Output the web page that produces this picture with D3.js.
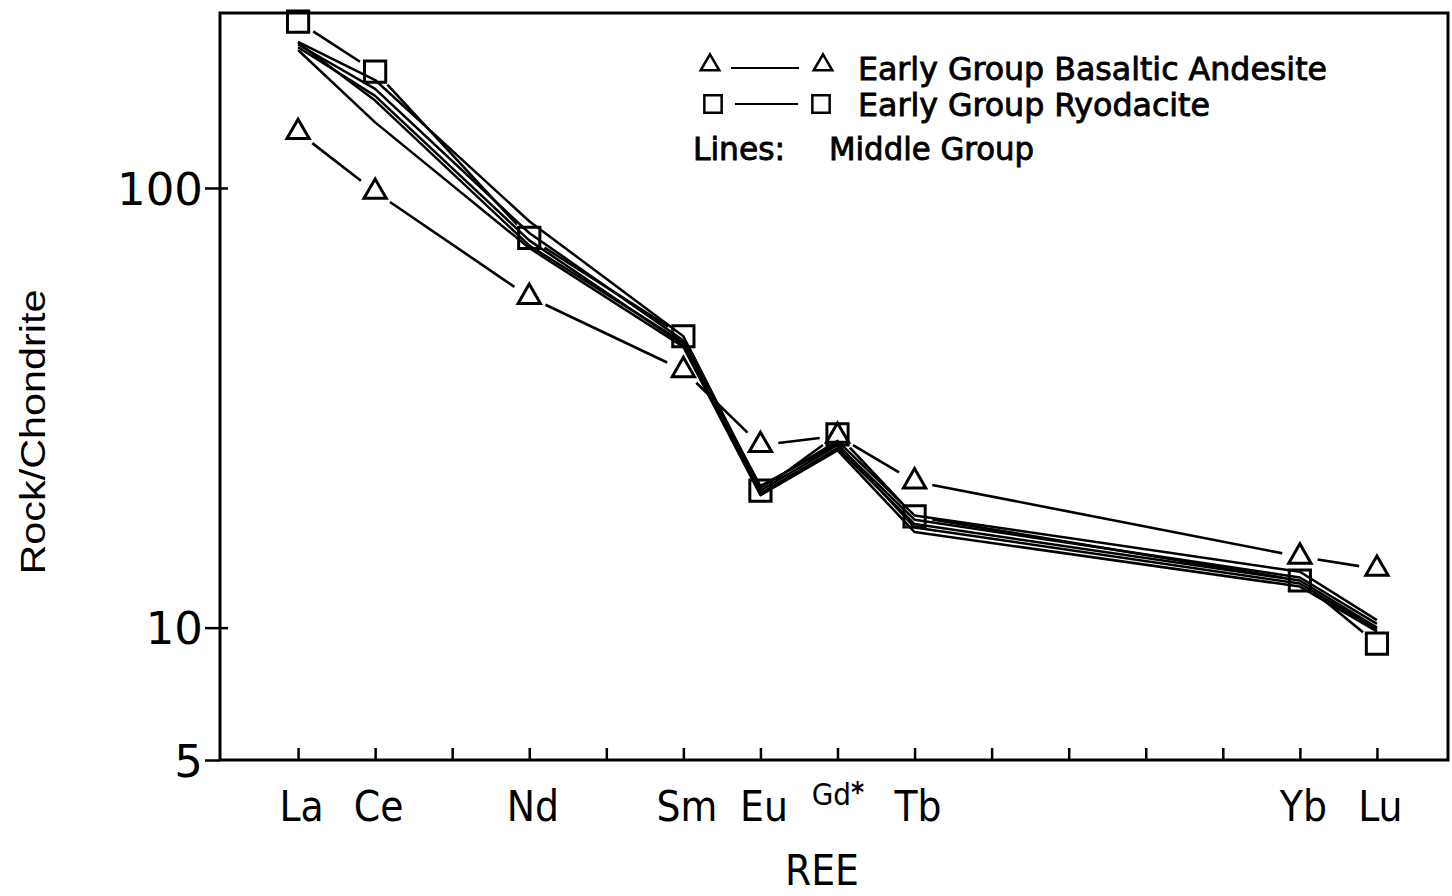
<!DOCTYPE html>
<html>
<head>
<meta charset="utf-8">
<script src="https://cdnjs.cloudflare.com/ajax/libs/d3/7.8.5/d3.min.js"></script>
<style>
body { margin: 0; background: #fff; }
svg { display: block; }
text { font-family: "DejaVu Sans", sans-serif; fill: #000; }
</style>
</head>
<body>
<div id="chart"></div>
<script>
// REE positions by atomic number (La=57 ... Lu=71)
const tickNumbers = [57, 58, 59, 60, 61, 62, 63, 64, 65, 66, 67, 68, 69, 70, 71]
const elementNumbers = [57, 58, 60, 62, 63, 64, 65, 70, 71]
const elementLabels = ["La", "Ce", "Nd", "Sm", "Eu", "Gd*", "Tb", "Yb", "Lu"]
const yTicks = [5, 10, 100]

// early group
const basalticAndesite = [134, 98, 56.5, 38.5, 26.0, 27.3, 21.5, 14.5, 13.6]
const ryodacite = [239, 184, 77, 46, 20.5, 27.5, 17.9, 12.8, 9.2]

// middle group (plain lines)
const middle1 = [215, 176, 84, 46, 20.8, 26.6, 18.0, 13.4, 10.4]
const middle2 = [212, 168, 79, 45, 20.5, 26.0, 17.6, 13.0, 10.2]
const middle3 = [209, 162, 76, 44, 20.2, 25.6, 17.2, 12.8, 10.0]
const middle4 = [206, 141, 73, 43.5, 20.0, 25.3, 16.5, 12.4, 9.8]
const middle5 = [214, 158, 74, 44.5, 21.0, 26.2, 16.9, 12.6, 9.9]
const middleGroup = [middle1, middle2, middle3, middle4, middle5]

const width = 1452
const height = 896
const plotLeft = 220, plotRight = 1448, plotTop = 13, plotBottom = 760

const svg = d3.select("#chart")
    .append("svg")
    .attr("width", width)
    .attr("height", height)

const xScale = d3.scaleLinear()
    .domain([56, 72])
    .range([221, 1454])

const yScale = d3.scaleLog()
    .domain([5, 250])
    .range([plotBottom, plotTop])

// frame
svg.append("rect")
    .attr("x", plotLeft)
    .attr("y", plotTop)
    .attr("width", plotRight - plotLeft)
    .attr("height", plotBottom - plotTop)
    .attr("fill", "none")
    .attr("stroke", "#000")
    .attr("stroke-width", 3)

// bottom ticks (pointing up)
const xTicks = svg.append("g")
    .attr("transform", `translate(0,${plotBottom})`)
    .call(d3.axisBottom(xScale).tickValues(tickNumbers).tickSize(-12).tickFormat(""))
xTicks.select(".domain").remove()
xTicks.selectAll(".tick line").attr("stroke-width", 2.5)

// bottom labels
const xLabels = svg.append("g")
    .attr("transform", `translate(0,${plotBottom})`)
    .call(d3.axisBottom(xScale).tickValues(elementNumbers).tickSize(0).tickPadding(0)
        .tickFormat((d, i) => elementLabels[i]))
xLabels.select(".domain").remove()
xLabels.selectAll(".tick text")
    .attr("y", 61)
    .attr("dy", 0)
    .attr("x", 3)
    .style("font-size", "42px")
    .style("font-stretch", "condensed")
    .each(function(d, i) {
        if (elementLabels[i] === "Gd*") {
            const t = d3.select(this)
            t.text("")
            t.attr("y", 45).attr("x", 0).style("font-size", "31px")
            t.append("tspan").text("Gd")
            t.append("tspan").text("*").attr("dy", -3).style("font-size", "28px").style("font-weight", "bold")
        }
    })

// left axis
const yAxis = svg.append("g")
    .attr("transform", `translate(${plotLeft},0)`)
    .call(d3.axisLeft(yScale).tickValues(yTicks).tickSize(15).tickFormat(d3.format("d")))
yAxis.select(".domain").remove()
yAxis.selectAll(".tick line").attr("x2", (d) => d === 5 ? 0 : 8).attr("x1", -15).attr("stroke-width", 2.5)
yAxis.selectAll(".tick text")
    .attr("x", -17)
    .attr("dy", "0.36em")
    .style("font-size", "45px")

// axis titles
svg.append("text")
    .attr("x", 822)
    .attr("y", 885)
    .attr("text-anchor", "middle")
    .style("font-size", "42px")
    .style("font-stretch", "condensed")
    .text("REE")

svg.append("text")
    .attr("transform", "translate(45,432) rotate(-90)")
    .attr("text-anchor", "middle")
    .attr("textLength", 285)
    .attr("lengthAdjust", "spacingAndGlyphs")
    .style("font-size", "35px")
    .style("font-family", "'Liberation Sans', Arial, sans-serif")
    .text("Rock/Chondrite")

// middle group lines
const line = d3.line()
    .x((d, i) => xScale(elementNumbers[i]))
    .y((d) => yScale(d))

svg.selectAll(".middle")
    .data(middleGroup)
    .enter()
    .append("path")
    .attr("class", "middle")
    .attr("d", line)
    .attr("fill", "none")
    .attr("stroke", "#000")
    .attr("stroke-width", 2.5)
    .attr("stroke-linejoin", "round")

// segments that stop short of the markers
const gapSegments = (values, gap) => {
    const segs = []
    for (let i = 0; i < values.length - 1; i++) {
        const x0 = xScale(elementNumbers[i]), y0 = yScale(values[i])
        const x1 = xScale(elementNumbers[i + 1]), y1 = yScale(values[i + 1])
        const len = Math.hypot(x1 - x0, y1 - y0)
        const ux = (x1 - x0) / len, uy = (y1 - y0) / len
        segs.push([x0 + ux * gap, y0 + uy * gap, x1 - ux * gap, y1 - uy * gap])
    }
    return segs
}

const drawSeries = (values, symbolType, size, cls) => {
    svg.selectAll("." + cls + "-seg")
        .data(gapSegments(values, 18))
        .enter()
        .append("line")
        .attr("class", cls + "-seg")
        .attr("x1", (d) => d[0])
        .attr("y1", (d) => d[1])
        .attr("x2", (d) => d[2])
        .attr("y2", (d) => d[3])
        .attr("stroke", "#000")
        .attr("stroke-width", 2.6)

    svg.selectAll("." + cls + "-pt")
        .data(values)
        .enter()
        .append("path")
        .attr("class", cls + "-pt")
        .attr("d", d3.symbol().type(symbolType).size(size))
        .attr("transform", (d, i) => `translate(${xScale(elementNumbers[i])},${yScale(d)})`)
        .attr("fill", "none")
        .attr("stroke", "#000")
        .attr("stroke-width", 3)
}

drawSeries(basalticAndesite, d3.symbolTriangle, 215, "tri")
drawSeries(ryodacite, d3.symbolSquare, 450, "sq")

// legend
const legend = svg.append("g")
legend.append("path").attr("d", d3.symbol().type(d3.symbolTriangle).size(150)())
    .attr("transform", "translate(710,65)").attr("fill", "none").attr("stroke", "#000").attr("stroke-width", 2.5)
legend.append("path").attr("d", d3.symbol().type(d3.symbolTriangle).size(150)())
    .attr("transform", "translate(823,65)").attr("fill", "none").attr("stroke", "#000").attr("stroke-width", 2.5)
legend.append("line").attr("x1", 731).attr("x2", 799).attr("y1", 68).attr("y2", 68)
    .attr("stroke", "#000").attr("stroke-width", 2.2)
legend.append("path").attr("d", d3.symbol().type(d3.symbolSquare).size(300)())
    .attr("transform", "translate(713,104)").attr("fill", "none").attr("stroke", "#000").attr("stroke-width", 2.5)
legend.append("path").attr("d", d3.symbol().type(d3.symbolSquare).size(300)())
    .attr("transform", "translate(821,104)").attr("fill", "none").attr("stroke", "#000").attr("stroke-width", 2.5)
legend.append("line").attr("x1", 735).attr("x2", 798).attr("y1", 104).attr("y2", 104)
    .attr("stroke", "#000").attr("stroke-width", 2.2)

const legendText = [
    {x: 858, y: 80, t: "Early Group Basaltic Andesite", w: 469},
    {x: 858, y: 116, t: "Early Group Ryodacite", w: 352},
    {x: 693, y: 160, t: "Lines:", w: 92},
    {x: 829, y: 160, t: "Middle Group", w: 205}
]
legend.selectAll("text")
    .data(legendText)
    .enter()
    .append("text")
    .attr("x", (d) => d.x)
    .attr("y", (d) => d.y)
    .attr("textLength", (d) => d.w)
    .attr("lengthAdjust", "spacingAndGlyphs")
    .style("font-size", "32px")
    .style("font-stretch", "condensed")
    .style("stroke", "#000")
    .style("stroke-width", 0.8)
    .text((d) => d.t)
</script>
</body>
</html>
